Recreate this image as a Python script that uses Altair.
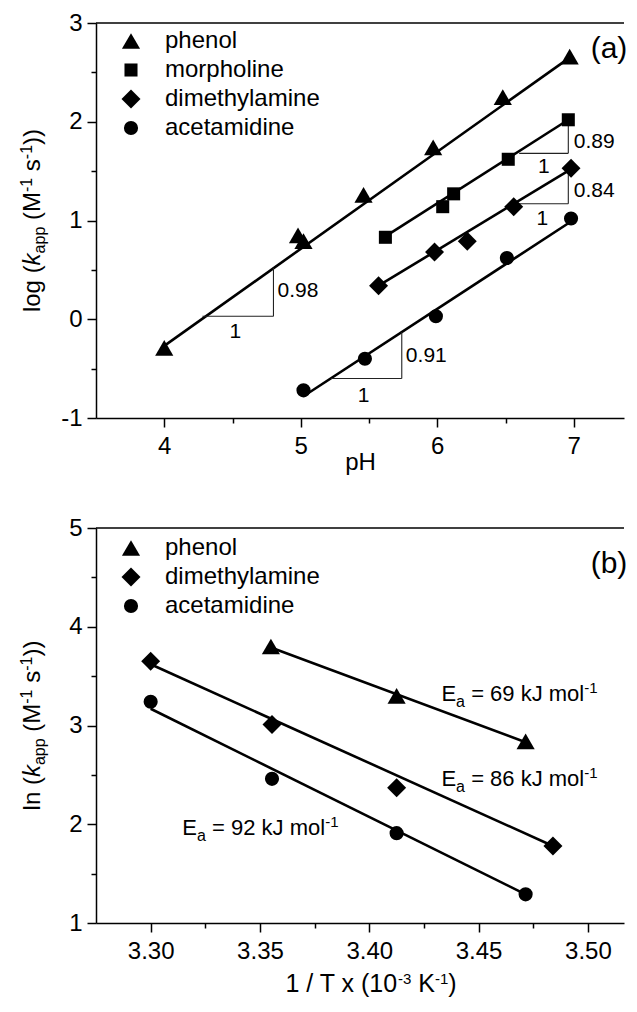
import altair as alt
import pandas as pd

FONT = "Liberation Sans"

# ---------------- panel (a): log k_app vs pH ----------------
a_series = ["phenol", "morpholine", "dimethylamine", "acetamidine"]
phenol_ph = [4.00, 4.98, 5.02, 5.46, 5.97, 6.48, 6.97]
phenol_logk = [-0.29, 0.85, 0.79, 1.26, 1.74, 2.25, 2.66]
morph_ph = [5.62, 6.04, 6.12, 6.52, 6.96]
morph_logk = [0.83, 1.14, 1.27, 1.62, 2.02]
dma_ph = [5.57, 5.98, 6.22, 6.56, 6.98]
dma_logk = [0.34, 0.68, 0.79, 1.14, 1.53]
acet_ph = [5.02, 5.47, 5.99, 6.51, 6.98]
acet_logk = [-0.72, -0.40, 0.03, 0.62, 1.02]

# fitted lines (end points)
a_fit_x1 = [4.00, 5.62, 5.57, 5.02]
a_fit_y1 = [-0.27, 0.84, 0.34, -0.78]
a_fit_x2 = [6.98, 6.96, 6.98, 6.98]
a_fit_y2 = [2.66, 2.02, 1.52, 0.99]

# slope triangles
tri_x1 = [4.28, 6.60, 6.58, 5.22]
tri_x2 = [4.80, 6.96, 6.96, 5.74]
tri_y1 = [0.03, 1.68, 1.17, -0.60]
tri_y2 = [0.52, 2.02, 1.52, -0.13]
slope_text = ["0.98", "0.89", "0.84", "0.91"]
slope_lab_x = [4.83, 7.00, 7.00, 5.77]
slope_lab_y = [0.29, 1.79, 1.30, -0.37]
one_lab_x = [4.52, 6.78, 6.77, 5.46]
one_lab_y = [-0.13, 1.54, 1.02, -0.78]

# ---------------- panel (b): ln k_app vs 1/T ----------------
b_series = ["phenol", "dimethylamine", "acetamidine"]
b_phenol_x = [3.355, 3.4125, 3.4715]
b_phenol_y = [3.80, 3.30, 2.84]
b_dma_x = [3.300, 3.3555, 3.4125, 3.484]
b_dma_y = [3.65, 3.01, 2.37, 1.78]
b_acet_x = [3.300, 3.3555, 3.4125, 3.4715]
b_acet_y = [3.24, 2.46, 1.91, 1.29]

b_fit_x1 = [3.355, 3.300, 3.300]
b_fit_y1 = [3.79, 3.62, 3.17]
b_fit_x2 = [3.4715, 3.484, 3.4715]
b_fit_y2 = [2.83, 1.78, 1.29]

ea_main = ["= 69 kJ mol", "= 86 kJ mol", "= 92 kJ mol"]
ea_x = [3.433, 3.433, 3.3145]
ea_y = [3.25, 2.39, 1.89]

# ---------------- helpers ----------------
W = {' ': 278, '(': 333, ')': 333, '-': 333, '.': 278, '/': 278, '=': 584,
     'E': 667, 'J': 500, 'K': 667, 'M': 833, 'T': 611, 'a': 556, 'e': 556,
     'g': 556, 'k': 500, 'l': 222, 'm': 833, 'n': 556, 'o': 556, 'p': 556,
     's': 500, 'x': 500}
for d in "0123456789":
    W[d] = 556


def tw(s, fs):
    return sum(W.get(c, 556) for c in s) * fs / 1000.0


one_row = pd.DataFrame({"d": [0]})


def rich_value_text(pieces, x_px, y_px, angle=0):
    """pieces: (text, fontsize, dy, style); centered on (x_px, y_px) along text direction."""
    total = sum(tw(t, fs) for t, fs, dy, st in pieces)
    off = -total / 2.0
    layers = []
    for t, fs, dy, st in pieces:
        lead = len(t) - len(t.lstrip(' '))
        core = t.strip(' ')
        dx = off + tw(' ' * lead, fs)
        layers.append(
            alt.Chart(one_row).mark_text(
                text=core, align='left', baseline='alphabetic', dx=dx, dy=dy,
                fontSize=fs, fontStyle=st, font=FONT, color='black', angle=angle
            ).encode(x=alt.value(x_px), y=alt.value(y_px))
        )
        off += tw(t, fs)
    return layers


def major_test(mult):
    return f"abs(datum.value*{mult} - round(datum.value*{mult})) < 0.001"


def mk_axis(values, mult, fmt_expr, label_pad, title=None, title_pad=0):
    test = major_test(mult)
    kw = dict(values=values, labelExpr=f"{test} ? {fmt_expr} : ''",
              tickSize={"condition": {"test": test, "value": 9}, "value": 5},
              tickColor='black', tickWidth=1.5, domainColor='black', domainWidth=1.5,
              labelFont=FONT, labelFontSize=24, labelColor='black', labelPadding=label_pad,
              labelFlush=False, labelOverlap=False, grid=False)
    if title:
        kw.update(title=title, titleFont=FONT, titleFontSize=24, titleFontWeight='normal',
                  titleColor='black', titlePadding=title_pad)
    else:
        kw.update(title=None)
    return alt.Axis(**kw)


def top_border(width):
    return alt.Chart(one_row).mark_rule(color='black', strokeWidth=1.5).encode(
        x=alt.value(0), x2=alt.value(width), y=alt.value(0))


PW, PH = 528, 395

# ---------------- panel (a) chart ----------------
ax_xa = mk_axis([4, 4.5, 5, 5.5, 6, 6.5, 7], 1, "toString(datum.value)", 7, "pH", -8)
ax_ya = mk_axis([-1, -0.5, 0, 0.5, 1, 1.5, 2, 2.5, 3], 1, "toString(datum.value)", 5)
sx_a = alt.Scale(domain=[3.5, 7.368], nice=False, zero=False)
sy_a = alt.Scale(domain=[-1, 3], nice=False, zero=False)

pts_a = pd.concat([
    pd.DataFrame({"series": s, "x": xs, "y": ys})
    for s, xs, ys in zip(a_series, [phenol_ph, morph_ph, dma_ph, acet_ph],
                         [phenol_logk, morph_logk, dma_logk, acet_logk])
])
fit_a = pd.DataFrame({"x1": a_fit_x1, "y1": a_fit_y1, "x2": a_fit_x2, "y2": a_fit_y2})
tri_a = pd.DataFrame({"x1": tri_x1, "x2": tri_x2, "y1": tri_y1, "y2": tri_y2})
slab_a = pd.DataFrame({"x": slope_lab_x, "y": slope_lab_y, "t": slope_text})
olab_a = pd.DataFrame({"x": one_lab_x, "y": one_lab_y, "t": ["1"] * 4})

leg_a = alt.Legend(title=None, orient='none', legendX=23, legendY=6, labelFont=FONT,
                   labelFontSize=24, labelColor='black', rowPadding=5, labelOffset=22,
                   padding=0, symbolStrokeWidth=0, symbolFillColor='black')

Xa = lambda f: alt.X(f, scale=sx_a, axis=ax_xa)
Ya = lambda f: alt.Y(f, scale=sy_a, axis=ax_ya)

l_fit_a = alt.Chart(fit_a).mark_rule(color='black', strokeWidth=2.6).encode(
    x=Xa('x1:Q'), y=Ya('y1:Q'), x2='x2:Q', y2='y2:Q')
l_trih_a = alt.Chart(tri_a).mark_rule(color='#222', strokeWidth=1.1).encode(
    x=Xa('x1:Q'), x2='x2:Q', y=Ya('y1:Q'))
l_triv_a = alt.Chart(tri_a).mark_rule(color='#222', strokeWidth=1.1).encode(
    x=Xa('x2:Q'), y=Ya('y1:Q'), y2='y2:Q')
l_slab_a = alt.Chart(slab_a).mark_text(align='left', baseline='middle', font=FONT,
                                       fontSize=21, color='black').encode(
    x=Xa('x:Q'), y=Ya('y:Q'), text='t:N')
l_olab_a = alt.Chart(olab_a).mark_text(align='center', baseline='middle', font=FONT,
                                       fontSize=21, color='black').encode(
    x=Xa('x:Q'), y=Ya('y:Q'), text='t:N')
l_pts_a = alt.Chart(pts_a).mark_point(filled=True, color='black', opacity=1).encode(
    x=Xa('x:Q'), y=Ya('y:Q'),
    shape=alt.Shape('series:N', scale=alt.Scale(domain=a_series,
                    range=['triangle-up', 'square', 'diamond', 'circle']), legend=leg_a),
    size=alt.Size('series:N', scale=alt.Scale(type='ordinal', domain=a_series,
                                               range=[330, 170, 360, 200]),
                  legend=leg_a))
l_tag_a = alt.Chart(one_row).mark_text(text='(a)', font=FONT, fontSize=30, align='center',
                                       baseline='middle', color='black').encode(
    x=alt.value(513), y=alt.value(26))

ytitle_a = rich_value_text([("log (", 24, 0, 'normal'), ("k", 24, 0, 'italic'),
                            ("app", 16, 5, 'normal'), (" (M", 24, 0, 'normal'),
                            ("-1", 16, -8, 'normal'), (" s", 24, 0, 'normal'),
                            ("-1", 16, -8, 'normal'), ("))", 24, 0, 'normal')],
                           -56.5, PH / 2, angle=270)

top = alt.layer(top_border(PW), l_fit_a, l_trih_a, l_triv_a, l_slab_a, l_olab_a, l_pts_a,
                l_tag_a, *ytitle_a).properties(width=PW, height=PH)

# ---------------- panel (b) chart ----------------
ax_xb = mk_axis([3.30, 3.325, 3.35, 3.375, 3.40, 3.425, 3.45, 3.475, 3.50], 20,
                "format(datum.value, '.2f')", 7)
ax_yb = mk_axis([1, 1.5, 2, 2.5, 3, 3.5, 4, 4.5, 5], 1, "toString(datum.value)", 5)
sx_b = alt.Scale(domain=[3.275, 3.5165], nice=False, zero=False)
sy_b = alt.Scale(domain=[1, 5], nice=False, zero=False)
Xb = lambda f: alt.X(f, scale=sx_b, axis=ax_xb)
Yb = lambda f: alt.Y(f, scale=sy_b, axis=ax_yb)

pts_b = pd.concat([
    pd.DataFrame({"series": s, "x": xs, "y": ys})
    for s, xs, ys in zip(b_series, [b_phenol_x, b_dma_x, b_acet_x],
                         [b_phenol_y, b_dma_y, b_acet_y])
])
fit_b = pd.DataFrame({"x1": b_fit_x1, "y1": b_fit_y1, "x2": b_fit_x2, "y2": b_fit_y2})
ea_df = pd.DataFrame({"x": ea_x, "y": ea_y, "t": ea_main})

leg_b = alt.Legend(title=None, orient='none', legendX=23, legendY=8, labelFont=FONT,
                   labelFontSize=24, labelColor='black', rowPadding=5, labelOffset=22,
                   padding=0, symbolStrokeWidth=0, symbolFillColor='black')

l_fit_b = alt.Chart(fit_b).mark_rule(color='black', strokeWidth=2.6).encode(
    x=Xb('x1:Q'), y=Yb('y1:Q'), x2='x2:Q', y2='y2:Q')
l_pts_b = alt.Chart(pts_b).mark_point(filled=True, color='black', opacity=1).encode(
    x=Xb('x:Q'), y=Yb('y:Q'),
    shape=alt.Shape('series:N', scale=alt.Scale(domain=b_series,
                    range=['triangle-up', 'diamond', 'circle']), legend=leg_b),
    size=alt.Size('series:N', scale=alt.Scale(type='ordinal', domain=b_series,
                                               range=[330, 360, 200]),
                  legend=leg_b))
l_tag_b = alt.Chart(one_row).mark_text(text='(b)', font=FONT, fontSize=30, align='center',
                                       baseline='middle', color='black').encode(
    x=alt.value(513), y=alt.value(36))

EA_FS, EA_SUB, EA_SUP = 22, 16, 15
e_w = tw("E", EA_FS)
a_w = tw("a", EA_SUB)
m_w = tw(" " + ea_main[0], EA_FS)
ea_layers = [
    alt.Chart(ea_df).mark_text(text='E', align='left', baseline='alphabetic', font=FONT,
                               fontSize=EA_FS, color='black').encode(x=Xb('x:Q'), y=Yb('y:Q')),
    alt.Chart(ea_df).mark_text(text='a', align='left', baseline='alphabetic', font=FONT,
                               fontSize=EA_SUB, dx=e_w, dy=6, color='black').encode(
        x=Xb('x:Q'), y=Yb('y:Q')),
    alt.Chart(ea_df).mark_text(align='left', baseline='alphabetic', font=FONT,
                               fontSize=EA_FS, dx=e_w + a_w + tw(" ", EA_FS),
                               color='black').encode(x=Xb('x:Q'), y=Yb('y:Q'), text='t:N'),
    alt.Chart(ea_df).mark_text(text='-1', align='left', baseline='alphabetic', font=FONT,
                               fontSize=EA_SUP, dx=e_w + a_w + m_w, dy=-8,
                               color='black').encode(x=Xb('x:Q'), y=Yb('y:Q')),
]

ytitle_b = rich_value_text([("ln (", 24, 0, 'normal'), ("k", 24, 0, 'italic'),
                            ("app", 16, 5, 'normal'), (" (M", 24, 0, 'normal'),
                            ("-1", 16, -8, 'normal'), (" s", 24, 0, 'normal'),
                            ("-1", 16, -8, 'normal'), ("))", 24, 0, 'normal')],
                           -56.5, PH / 2, angle=270)
xtitle_b = rich_value_text([("1 / T x (10", 25, 0, 'normal'), ("-3", 15, -8, 'normal'),
                            (" K", 25, 0, 'normal'), ("-1", 15, -8, 'normal'),
                            (")", 25, 0, 'normal')],
                           275, PH + 69)

bottom = alt.layer(top_border(PW), l_fit_b, l_pts_b, l_tag_b, *ea_layers, *ytitle_b,
                   *xtitle_b).properties(width=PW, height=PH)

chart = alt.vconcat(top, bottom, spacing=42).resolve_scale(
    shape='independent', size='independent'
).resolve_legend(
    shape='independent', size='independent'
).properties(
    padding={"left": 10, "top": 3, "right": 0, "bottom": 0}
).configure_view(strokeWidth=0)

chart.save("out.html", embed_options={"renderer": "svg", "actions": False})
